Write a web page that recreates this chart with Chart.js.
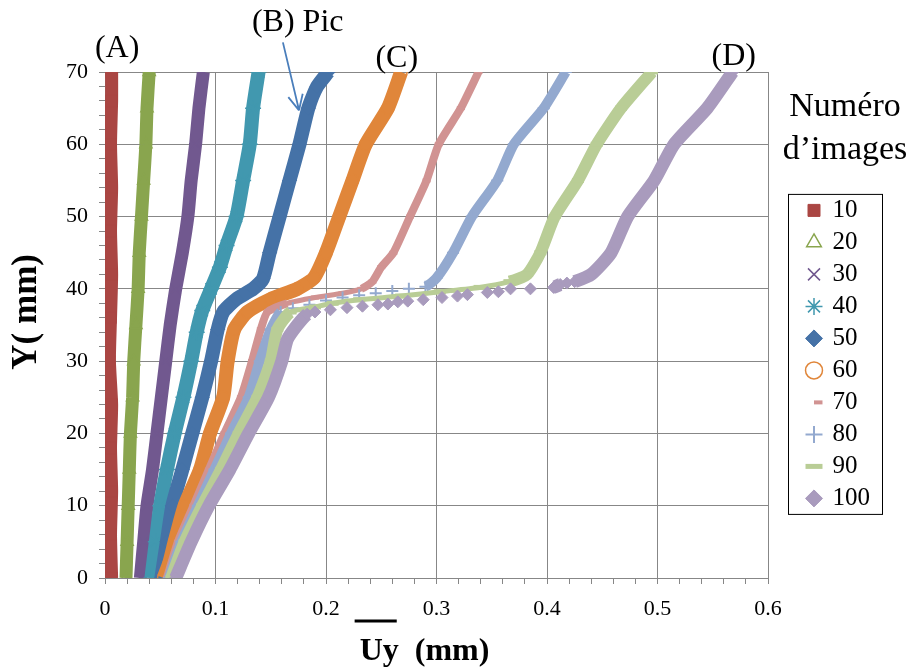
<!DOCTYPE html>
<html>
<head>
<meta charset="utf-8">
<script src="https://cdn.jsdelivr.net/npm/chart.js@4.4.0/dist/chart.umd.min.js"></script>
<style>
  html, body { margin: 0; padding: 0; background: #fff; }
</style>
</head>
<body>
<canvas id="c" width="912" height="671"></canvas>
<script>
// number of images for each curve (legend)
const seriesNames = ['10', '20', '30', '40', '50', '60', '70', '80', '90', '100'];
const legendTitle = ['Numéro', 'd’images'];

// [Uy (mm), Y (mm)], bottom to top
const pts10 = [[0.006,0],[0.005,6],[0.006,12],[0.005,18],[0.006,24],[0.004,30],[0.005,36],[0.006,42],[0.005,48],[0.006,54],[0.005,60],[0.006,66],[0.006,70]];
const pts20 = [[0.019,0],[0.020,5],[0.021,10],[0.022,15],[0.023,20],[0.025,25],[0.026,30],[0.028,35],[0.030,40],[0.031,45],[0.033,50],[0.035,55],[0.037,60],[0.038,65],[0.040,70]];
const pts30 = [[0.032,0],[0.035,5],[0.038,10],[0.043,15],[0.047,20],[0.051,25],[0.055,30],[0.059,35],[0.064,40],[0.070,45],[0.075,50],[0.078,55],[0.082,60],[0.085,65],[0.089,70]];
const pts40 = [[0.042,0],[0.046,5],[0.050,10],[0.056,15],[0.063,20],[0.071,25],[0.078,30],[0.083,34],[0.088,37],[0.096,40],[0.104,43],[0.110,46],[0.119,50],[0.125,55],[0.131,60],[0.134,65],[0.139,70]];
const pts50 = [[0.051,0],[0.056,5],[0.061,10],[0.070,15],[0.079,20],[0.088,25],[0.096,30],[0.102,34.4],[0.107,36.8],[0.119,38.6],[0.134,40],[0.143,41.4],[0.149,45],[0.158,50],[0.167,55],[0.176,60],[0.184,65],[0.192,68],[0.202,70]];
const pts60 = [[0.053,0],[0.058,2],[0.063,5],[0.072,10],[0.086,15],[0.095,20],[0.107,25],[0.111,30],[0.117,34.4],[0.129,36.8],[0.150,38.6],[0.174,40],[0.189,41.5],[0.200,45],[0.212,50],[0.224,55],[0.236,60],[0.256,65],[0.268,70]];
const pts70 = [[0.056,0],[0.066,5],[0.080,10],[0.094,15],[0.108,20],[0.123,25],[0.133,30],[0.141,34.4],[0.147,36.8],[0.165,38.0],[0.190,38.8],[0.215,39.4],[0.232,40.0],[0.242,41],[0.250,43],[0.261,45],[0.276,50],[0.291,55],[0.302,60],[0.322,65],[0.338,70]];
const pts80 = [[0.058,0],[0.069,5],[0.084,10],[0.099,15],[0.114,20],[0.130,25],[0.140,30],[0.150,34.4],[0.159,36.8],[0.170,37.3],[0.185,37.8],[0.200,38.4],[0.215,38.8],[0.230,39.1],[0.245,39.4],[0.260,39.7],[0.275,40.0],[0.290,40.3],[0.300,41.5],[0.315,45],[0.332,50],[0.355,55],[0.370,60],[0.397,65],[0.417,70]];
const pts90 = [[0.060,0],[0.072,5],[0.088,10],[0.105,15],[0.121,20],[0.138,25],[0.150,30],[0.156,34.4],[0.168,36.8],[0.190,37.5],[0.206,38.0],[0.230,38.5],[0.268,39.0],[0.303,39.6],[0.339,40.2],[0.366,41],[0.382,42],[0.394,45],[0.407,50],[0.428,55],[0.445,60],[0.467,65],[0.495,70]];
const pts100 = [[0.064,0],[0.078,5],[0.094,10],[0.113,15],[0.130,20],[0.148,25],[0.160,30],[0.165,33],[0.174,35],[0.183,36.5],[0.190,36.8],[0.204,37.1],[0.219,37.4],[0.233,37.6],[0.247,37.8],[0.256,37.9],[0.265,38.2],[0.274,38.3],[0.288,38.5],[0.305,38.8],[0.319,39.0],[0.328,39.2],[0.346,39.5],[0.356,39.6],[0.367,40.0],[0.385,40.0],[0.406,40.2],[0.412,40.6],[0.418,40.8],[0.425,41.0],[0.440,42],[0.458,45],[0.473,50],[0.497,55],[0.515,60],[0.545,65],[0.568,70]];

const xLabels = ['0', '0.1', '0.2', '0.3', '0.4', '0.5', '0.6'];
const yLabels = ['0', '10', '20', '30', '40', '50', '60', '70'];

const allPts = [pts10, pts20, pts30, pts40, pts50, pts60, pts70, pts80, pts90, pts100];

// look of each series
const colors = ['#AA4643', '#89A54E', '#71588F', '#4198AF', '#4572A7', '#E0863A', '#D19392', '#93A9CF', '#B9CD96', '#A99BBD'];
const markStyle = ['rect', 'triangle', 'crossRot', 'star', 'rectRot', 'circle', 'line', 'cross', 'line', 'rectRot'];
const markSize = [8, 7, 7, 8, 7, 6, 4, 6, 6, 6];
const markLine = [1, 1.5, 1.5, 1.5, 1, 1.5, 4, 2, 5, 1];
const hollow = [false, true, false, false, false, true, false, false, false, false];
const bandWidth = [13, 13, 13, 14, 14, 14, 8, 10, 12, 13];
const flatMode = [null, null, null, null, null, null, 'thin', 'hide', 'thin', 'hide'];

const gridGray = '#878787';

const isFlat = ctx => Math.abs(ctx.p1.y - ctx.p0.y) < 0.35 * Math.abs(ctx.p1.x - ctx.p0.x);
const isMajor = (v, step) => Math.abs(v / step - Math.round(v / step)) < 1e-6;

const datasets = allPts.map((pts, i) => ({
    label: seriesNames[i],
    data: pts.map(([x, y]) => ({x, y})),
    showLine: true,
    tension: 0.2,
    borderColor: colors[i],
    borderWidth: bandWidth[i],
    borderJoinStyle: 'round',
    pointStyle: markStyle[i],
    pointRadius: markSize[i],
    pointBorderWidth: markLine[i],
    pointBorderColor: colors[i],
    pointBackgroundColor: hollow[i] ? 'rgba(0,0,0,0)' : colors[i],
    order: 10 - i,
    segment: {
        borderColor: ctx => (flatMode[i] === 'hide' && isFlat(ctx)) ? 'rgba(0,0,0,0)' : undefined,
        borderWidth: ctx => (flatMode[i] === 'thin' && isFlat(ctx)) ? 5 : undefined
    }
}));

Chart.defaults.font.family = "'Liberation Serif', 'Times New Roman', serif";
Chart.defaults.color = '#000';

const decor = {
    id: 'decor',
    afterDraw(chart) {
        const {ctx, scales: {x, y}} = chart;
        ctx.save();
        ctx.fillStyle = '#000';
        ctx.font = "32px 'Liberation Serif'";
        ctx.textBaseline = 'middle';
        const notes = [
            {text: '(A)', x: 0.011, y: 73.3, align: 'center'},
            {text: '(B) Pic', x: 0.133, y: 76.9, align: 'left'},
            {text: '(C)', x: 0.264, y: 71.9, align: 'center'},
            {text: '(D)', x: 0.569, y: 72.2, align: 'center'}
        ];
        notes.forEach(n => {
            ctx.textAlign = n.align;
            ctx.fillText(n.text, x.getPixelForValue(n.x), y.getPixelForValue(n.y));
        });

        // arrow pointing at the peak
        const x0 = x.getPixelForValue(0.161), y0 = y.getPixelForValue(74.1);
        const x1 = x.getPixelForValue(0.1756), y1 = y.getPixelForValue(64.7);
        const ang = Math.atan2(y1 - y0, x1 - x0);
        ctx.strokeStyle = '#4A7EBB';
        ctx.lineWidth = 1.8;
        ctx.beginPath();
        ctx.moveTo(x0, y0);
        ctx.lineTo(x1, y1);
        [0.45, -0.45].forEach(a => {
            ctx.moveTo(x1, y1);
            ctx.lineTo(x1 - 17 * Math.cos(ang + a), y1 - 17 * Math.sin(ang + a));
        });
        ctx.stroke();

        // bar over U in the x title
        const xt = chart.options.scales.x.title.text;
        ctx.font = "bold 32px 'Liberation Serif'";
        const start = (x.left + x.right) / 2 - ctx.measureText(xt).width / 2;
        ctx.strokeStyle = '#000';
        ctx.lineWidth = 3;
        ctx.beginPath();
        ctx.moveTo(start - 5, chart.chartArea.bottom + 43);
        ctx.lineTo(start + ctx.measureText('Uy').width - 2, chart.chartArea.bottom + 43);
        ctx.stroke();

        // legend title (the legend box would clip it) and frame round the entries
        const lg = chart.legend;
        ctx.font = "34px 'Liberation Serif'";
        ctx.textAlign = 'center';
        ctx.fillStyle = '#000';
        legendTitle.forEach((t, k) => ctx.fillText(t, lg.left + 44, lg.top + 35 + k * 43));
        const hb = lg.legendHitBoxes;
        if (hb && hb.length) {
            const last = hb[hb.length - 1];
            const left = hb[0].left - 20;
            const top = hb[0].top - 4;
            ctx.lineWidth = 1;
            ctx.strokeRect(left + 0.5, top + 0.5, 94, last.top + last.height + 3 - top);
        }
        ctx.restore();
    }
};

new Chart(document.getElementById('c'), {
    type: 'scatter',
    data: { datasets },
    options: {
        responsive: false,
        animation: false,
        layout: { padding: { top: 72, right: 41, bottom: 0, left: 0 } },
        scales: {
            x: {
                type: 'linear', min: 0, max: 0.6,
                afterFit: s => { s.height = 93; },
                border: { color: gridGray, width: 1 },
                grid: {
                    color: c => (c.tick && isMajor(c.tick.value, 0.1)) ? gridGray : 'rgba(0,0,0,0)',
                    tickColor: gridGray, tickLength: 6
                },
                ticks: {
                    stepSize: 0.02, autoSkip: false, maxRotation: 0, padding: 12,
                    font: { size: 22 },
                    callback: v => isMajor(v, 0.1) ? xLabels[Math.round(v * 10)] : ''
                },
                title: { display: true, text: 'Uy  (mm)   ', font: { size: 32, weight: 'bold' }, padding: { top: 0, bottom: 0 } }
            },
            y: {
                type: 'linear', min: 0, max: 70,
                afterFit: s => { s.width = 105; },
                border: { color: gridGray, width: 1 },
                grid: {
                    color: c => (c.tick && isMajor(c.tick.value, 10)) ? gridGray : 'rgba(0,0,0,0)',
                    tickColor: gridGray, tickLength: 6
                },
                ticks: {
                    stepSize: 2, autoSkip: false, padding: 11,
                    font: { size: 22 },
                    callback: v => isMajor(v, 10) ? yLabels[Math.round(v / 10)] : ''
                },
                title: { display: true, text: '   Y( mm)', font: { size: 35, weight: 'bold' }, padding: { top: 6, bottom: 0 } }
            },
            gap: {
                type: 'linear', axis: 'y', position: 'right', display: true,
                grid: { display: false }, border: { display: false }, ticks: { display: false },
                afterFit: s => { s.width = 33; }
            }
        },
        plugins: {
            tooltip: { enabled: false },
            legend: {
                position: 'right',
                align: 'start',
                maxWidth: 70,
                title: {
                    // keeps room above the entries; the text itself is drawn by decor
                    display: true,
                    text: ' ',
                    color: 'rgba(0,0,0,0)',
                    font: { size: 30, lineHeight: 1.43 },
                    padding: { top: 20, bottom: 56 }
                },
                labels: {
                    usePointStyle: true,
                    boxWidth: 12,
                    boxHeight: 12,
                    padding: 7,
                    font: { size: 25 },
                    sort: (a, b) => a.datasetIndex - b.datasetIndex,
                    generateLabels: chart => {
                        const items = Chart.defaults.plugins.legend.labels.generateLabels(chart);
                        items.forEach(it => {
                            if (it.datasetIndex === 6) it.pointStyle = 'dash';
                        });
                        return items;
                    }
                }
            }
        }
    },
    plugins: [decor]
});
</script>
</body>
</html>
